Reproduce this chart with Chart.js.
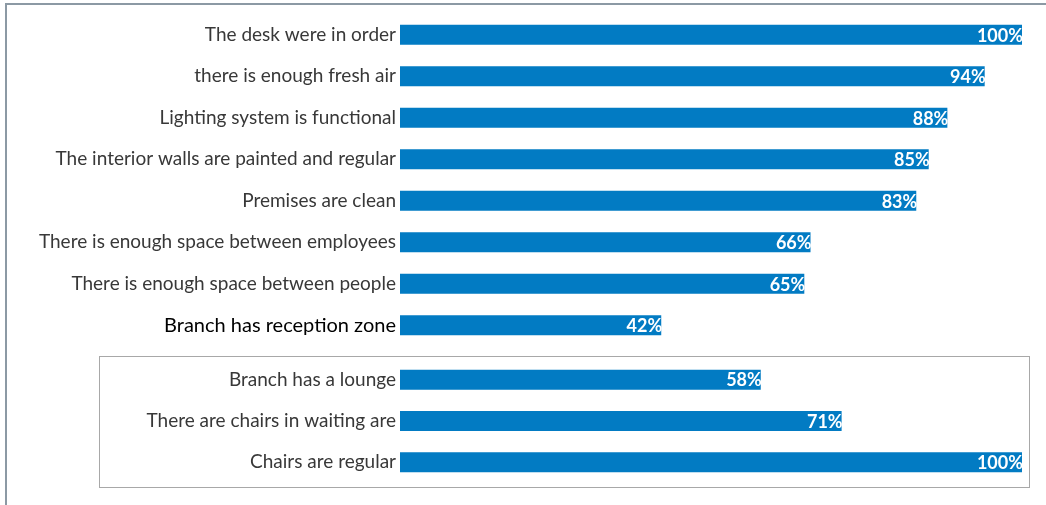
<!DOCTYPE html>
<html>
<head>
<meta charset="utf-8">
<script src="https://cdn.jsdelivr.net/npm/chart.js@4"></script>
<style>
  html, body { margin: 0; padding: 0; background: #fff; }
  body { width: 1046px; height: 505px; position: relative; overflow: hidden; }
  #frame {
    position: absolute; left: 5px; top: 3px; right: -10px; bottom: -10px;
    border-left: 2px solid #8c99a4; border-top: 2px solid #8c99a4;
  }
  #topWrap { position: absolute; left: 0; top: 0; width: 1046px; height: 360px; }
  #bottomBox {
    position: absolute; left: 99px; top: 356px; width: 929px; height: 130px;
    border: 1px solid #a8a8a8;
  }
  #bottomWrap { position: absolute; left: 0; top: 0; width: 929px; height: 130px; }
</style>
</head>
<body>
<div id="frame"></div>
<div id="topWrap"><canvas id="topChart"></canvas></div>
<div id="bottomBox"><div id="bottomWrap"><canvas id="bottomChart"></canvas></div></div>

<script>
// Premises checklist - share of branches answering "yes"
const premisesLabels = [
  'The desk were in order',
  'there is enough fresh air',
  'Lighting system is functional',
  'The interior walls are painted and regular',
  'Premises are clean',
  'There is enough space between employees',
  'There is enough space between people',
  'Branch has reception zone'
];
const premisesValues = [100, 94, 88, 85, 83, 66, 65, 42];

// Waiting area checklist
const waitingLabels = [
  'Branch has a lounge',
  'There are chairs in waiting are',
  'Chairs are regular'
];
const waitingValues = [58, 71, 100];

const BAR_COLOR = '#027bc3';
const FONT = 'Lato, "Open Sans", sans-serif';

// white % label drawn at the inner end of each bar
const valueLabels = {
  id: 'valueLabels',
  afterDatasetsDraw(chart) {
    const ctx = chart.ctx;
    const ds = chart.data.datasets[0];
    const meta = chart.getDatasetMeta(0);
    ctx.save();
    ctx.fillStyle = '#ffffff';
    ctx.font = 'bold 18px ' + FONT;
    ctx.textAlign = 'right';
    ctx.textBaseline = 'middle';
    meta.data.forEach((bar, i) => {
      ctx.fillText(ds.data[i] + '%', bar.x + 1, bar.y + 1);
    });
    ctx.restore();
  }
};

function makeChart(id, labels, values, axisWidth, padding, tickColor, tickFont) {
  return new Chart(document.getElementById(id), {
    type: 'bar',
    data: {
      labels: labels,
      datasets: [{
        data: values,
        backgroundColor: BAR_COLOR,
        borderWidth: 0,
        categoryPercentage: 1,
        barPercentage: 0.485
      }]
    },
    options: {
      indexAxis: 'y',
      responsive: true,
      maintainAspectRatio: false,
      animation: false,
      layout: { padding: padding },
      plugins: {
        legend: { display: false },
        tooltip: { enabled: false }
      },
      scales: {
        x: { display: false, min: 0, max: 100 },
        y: {
          grid: { display: false, drawTicks: false },
          border: { display: false },
          ticks: {
            padding: 4,
            color: tickColor,
            font: tickFont
          },
          afterFit(scale) {
            // fixed label column, and no extra room for half-height labels
            scale.width = axisWidth;
            scale.paddingTop = 0;
            scale.paddingBottom = 0;
          }
        }
      }
    },
    plugins: [valueLabels]
  });
}

makeChart('topChart', premisesLabels, premisesValues, 400,
  { top: 14, bottom: 14, left: 0, right: 24 },
  ctx => ctx.index === 7 ? '#000000' : '#383838',
  ctx => ({ family: FONT, size: ctx.index === 7 ? 20 : 19 }));

makeChart('bottomChart', waitingLabels, waitingValues, 300,
  { top: 2, bottom: 4, left: 0, right: 7 },
  '#383838',
  { family: FONT, size: 19 });
</script>
</body>
</html>
